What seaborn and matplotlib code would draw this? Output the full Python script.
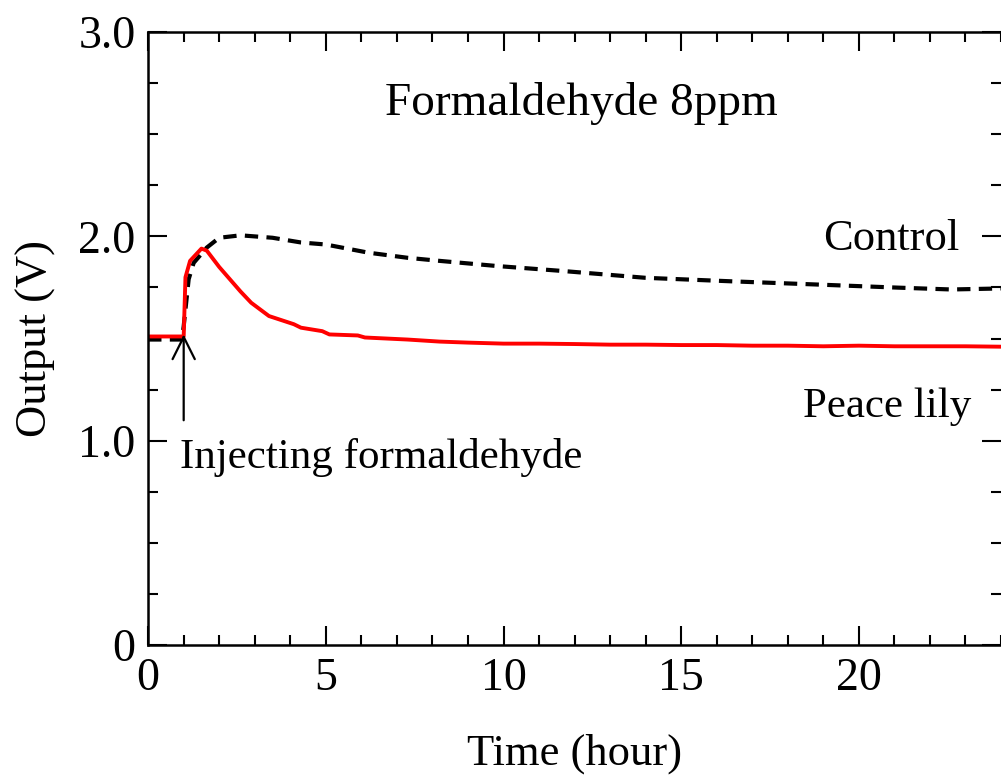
import pandas as pd
import seaborn as sns
import matplotlib.pyplot as plt
from matplotlib.ticker import MultipleLocator, FixedLocator

# Values
peace_time = [0, 1.0, 1.05, 1.18, 1.5, 1.65, 2.0, 2.6, 2.9, 3.4, 4.1, 4.3, 4.9, 5.1,
              5.9, 6.1, 7.3, 8.2, 9, 10, 11, 12, 13, 14, 15, 16, 17, 18, 19, 20,
              21, 22, 23, 24]
peace_lily = [1.51, 1.51, 1.80, 1.88, 1.94, 1.93, 1.85, 1.73, 1.675, 1.61, 1.57, 1.553,
              1.536, 1.52, 1.515, 1.505, 1.495, 1.485, 1.48, 1.475, 1.475, 1.473,
              1.47, 1.47, 1.468, 1.468, 1.465, 1.465, 1.462, 1.465, 1.462, 1.462,
              1.462, 1.46]

control_time = [0, 0.95, 1.0, 1.14, 1.28, 1.65, 2.0, 2.6, 3.5, 4.3, 5.0, 6.2, 7.3,
                8.2, 9.8, 11.7, 14.0, 16.4, 18.7, 21.1, 22.6, 24]
control = [1.495, 1.495, 1.56, 1.79, 1.87, 1.945, 1.993, 2.005, 1.993, 1.97, 1.96,
           1.92, 1.895, 1.88, 1.855, 1.83, 1.797, 1.78, 1.765, 1.749, 1.74, 1.745]

x_ticks = [0, 5, 10, 15, 20]
y_ticks = [0, 1.0, 2.0, 3.0]
y_tick_labels = ["0", "1.0", "2.0", "3.0"]

sns.set_style("ticks")
plt.rcParams["font.family"] = ["Liberation Serif", "DejaVu Serif"]
plt.rcParams["text.color"] = "black"
plt.rcParams["axes.labelcolor"] = "black"
plt.rcParams["xtick.color"] = "black"
plt.rcParams["ytick.color"] = "black"

fig = plt.figure(figsize=(10.01, 7.8), dpi=100)
ax = fig.add_axes([0.148, 0.173, 0.852, 0.786])

peace_df = pd.DataFrame({"time": peace_time, "output": peace_lily})
control_df = pd.DataFrame({"time": control_time, "output": control})

sns.lineplot(data=control_df, x="time", y="output", ax=ax, color="black",
             linewidth=3.0, linestyle=(0, (3.2, 2.0)))
sns.lineplot(data=peace_df, x="time", y="output", ax=ax, color="#ff0000",
             linewidth=2.8)

ax.set_xlim(0, 24)
ax.set_ylim(0, 3.0)
ax.xaxis.set_major_locator(FixedLocator(x_ticks))
ax.xaxis.set_minor_locator(MultipleLocator(1))
ax.yaxis.set_major_locator(FixedLocator(y_ticks))
ax.yaxis.set_minor_locator(MultipleLocator(0.25))
ax.set_yticklabels(y_tick_labels)

ax.tick_params(which="both", direction="in", top=True, right=True, width=1.5,
               labelsize=33, color="black", labelcolor="black")
ax.tick_params(which="major", length=14, pad=9)
ax.tick_params(which="minor", length=7)
for side in ["left", "bottom", "top"]:
    ax.spines[side].set_linewidth(1.8)
    ax.spines[side].set_color("black")
ax.spines["right"].set_visible(False)

ax.set_xlabel("Time (hour)", fontsize=32, labelpad=24)
ax.set_ylabel("Output (V)", fontsize=32, labelpad=16)

ax.text(12.2, 2.65, "Formaldehyde 8ppm", fontsize=34, ha="center", va="center")
ax.text(20.9, 1.985, "Control", fontsize=32, ha="center", va="center")
ax.text(20.8, 1.165, "Peace lily", fontsize=31, ha="center", va="center")
ax.text(0.9, 0.92, "Injecting formaldehyde", fontsize=31, ha="left", va="center")
ax.annotate("", xy=(1.0, 1.52), xytext=(1.0, 1.10),
            arrowprops=dict(arrowstyle="->", color="black", lw=1.6,
                            mutation_scale=40, shrinkA=0, shrinkB=0))

fig.savefig("out.png", dpi=100)
